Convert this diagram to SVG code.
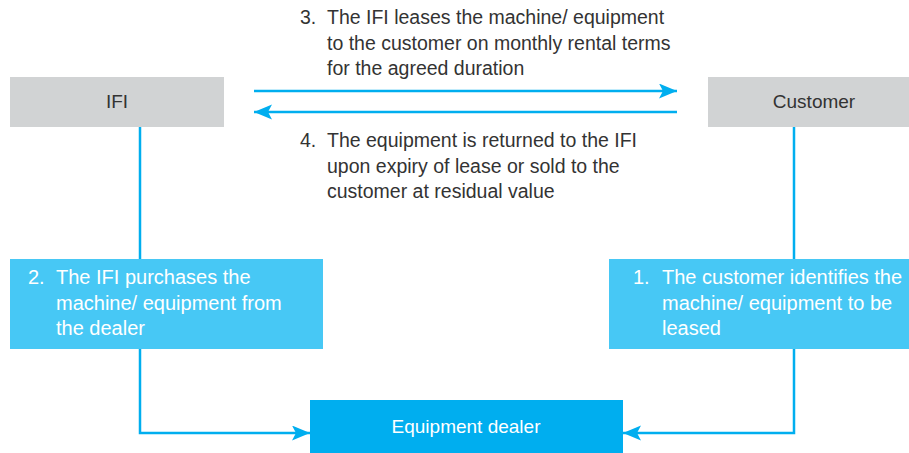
<svg xmlns="http://www.w3.org/2000/svg" width="909" height="453" viewBox="0 0 909 453">
  <defs>
    <style>
      text { font-family: "Liberation Sans", Arial, sans-serif; font-size: 19.5px; }
      .box { font-size: 20px; }
      .lbl { font-size: 19px; }
      .dark { fill: #333333; }
      .white { fill: #ffffff; }
      .gray { fill: #d1d3d4; }
      .light { fill: #47c8f5; }
      .deep { fill: #00aeef; }
      .conn { fill: none; stroke: #00aeef; stroke-width: 2.5; }
      .mid { text-anchor: middle; }
    </style>
    <marker id="ah" markerUnits="userSpaceOnUse" markerWidth="20" markerHeight="16" refX="18" refY="7.5" orient="auto">
      <path d="M0,0 L18,7.5 L0,15 L4,7.5 Z" fill="#00aeef"/>
    </marker>
  </defs>
  <rect width="909" height="453" fill="#ffffff"/>

  <g id="connectors">
    <line class="conn" x1="254" y1="91" x2="677" y2="91" marker-end="url(#ah)"/>
    <line class="conn" x1="677" y1="112" x2="254" y2="112" marker-end="url(#ah)"/>
    <path class="conn" d="M140,127 V433 H310" marker-end="url(#ah)"/>
    <path class="conn" d="M794,127 V433 H623" marker-end="url(#ah)"/>
  </g>

  <g id="ifi">
    <rect class="gray" x="10" y="77" width="214" height="50"/>
    <text class="dark mid lbl" x="117" y="108">IFI</text>
  </g>

  <g id="customer">
    <rect class="gray" x="708" y="77" width="201" height="50"/>
    <text class="dark mid lbl" x="814" y="108">Customer</text>
  </g>

  <g id="step3">
    <text class="dark" x="300" y="24">3.</text>
    <text class="dark" x="327" y="24">The IFI leases the machine/ equipment</text>
    <text class="dark" x="327" y="50">to the customer on monthly rental terms</text>
    <text class="dark" x="327" y="75">for the agreed duration</text>
  </g>

  <g id="step4">
    <text class="dark" x="300" y="147">4.</text>
    <text class="dark" x="327" y="147">The equipment is returned to the IFI</text>
    <text class="dark" x="327" y="172.5">upon expiry of lease or sold to the</text>
    <text class="dark" x="327" y="198">customer at residual value</text>
  </g>

  <g id="step2">
    <rect class="light" x="10" y="259" width="313" height="90"/>
    <text class="white box" x="28" y="284">2.</text>
    <text class="white box" x="56" y="284">The IFI purchases the</text>
    <text class="white box" x="56" y="310">machine/ equipment from</text>
    <text class="white box" x="56" y="335">the dealer</text>
  </g>

  <g id="step1">
    <rect class="light" x="609" y="259" width="300" height="90"/>
    <text class="white box" x="633" y="284">1.</text>
    <text class="white box" x="662" y="284">The customer identifies the</text>
    <text class="white box" x="662" y="310">machine/ equipment to be</text>
    <text class="white box" x="662" y="335">leased</text>
  </g>

  <g id="dealer">
    <rect class="deep" x="310" y="400" width="313" height="53"/>
    <text class="white mid lbl" x="466" y="433">Equipment dealer</text>
  </g>
</svg>
